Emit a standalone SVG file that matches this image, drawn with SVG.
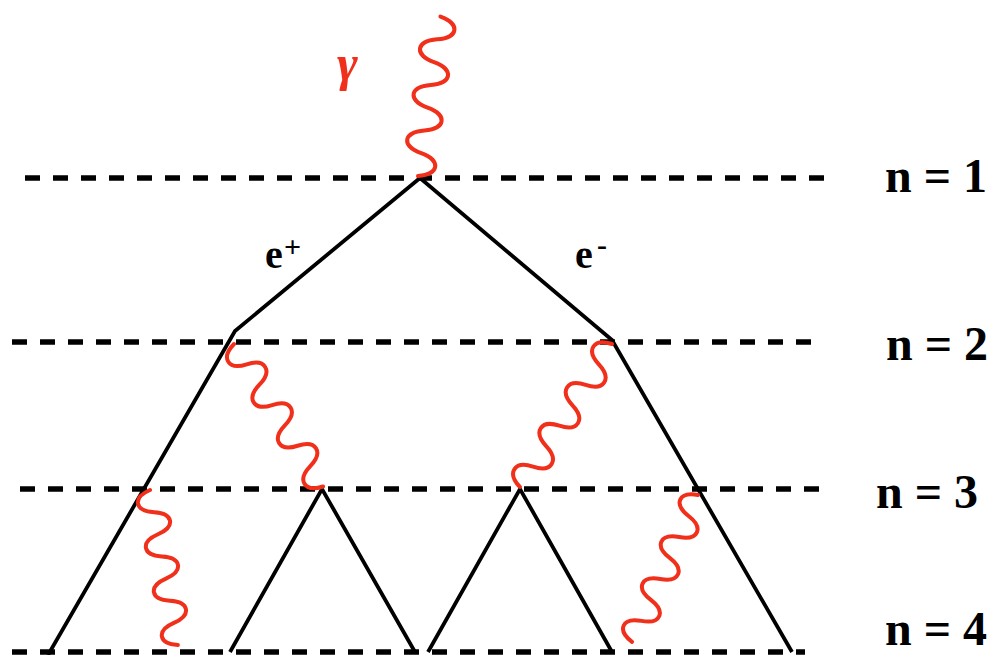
<svg xmlns="http://www.w3.org/2000/svg" width="992" height="655" viewBox="0 0 992 655">
<style>
.dash{stroke:#000;stroke-width:5.5;stroke-dasharray:15 13;fill:none}
.ln{stroke:#000;stroke-width:3.8;fill:none;stroke-linejoin:miter}
.ph{stroke:#f0301a;stroke-width:4;fill:none;stroke-linecap:round}
.lbl{font-family:"Liberation Serif","Times New Roman",serif;font-weight:bold;fill:#000}
</style>
<rect width="992" height="655" fill="#fff"/>
<g id="levels">
<line class="dash" x1="25" y1="178" x2="830" y2="178"/>
<line class="dash" x1="12" y1="342" x2="812" y2="342"/>
<line class="dash" x1="20" y1="489" x2="832" y2="489"/>
<line class="dash" x1="12" y1="652" x2="805" y2="652"/>
</g>
<g id="connectors">
<path class="ln" d="M48,655 L235,331 L420,178 L612,340 L792,652"/>
<path class="ln" d="M230,652 L322,489 L415,652"/>
<path class="ln" d="M428,652 L520,489 L612,652"/>
</g>
<g id="photons">
<path id="photon1" class="ph" transform="translate(418,176) rotate(-82)" d="M0,0 c4.6,21 18.4,21 23,0 c4.6,-21 18.4,-21 23,0 c4.6,21 18.4,21 23,0 c4.6,-21 18.4,-21 23,0 c4.6,21 18.4,21 23,0 c4.6,-21 18.4,-21 23,0 c4.6,21 18.4,21 23,0"/>
<path id="photon2" class="ph" transform="translate(234,344) rotate(58)" d="M0,0 c4.8,19 19.2,19 24,0 c4.8,-19 19.2,-19 24,0 c4.8,19 19.2,19 24,0 c4.8,-19 19.2,-19 24,0 c4.8,19 19.2,19 24,0 c4.8,-19 19.2,-19 24,0 c4.8,19 19.2,19 24,0"/>
<path id="photon3" class="ph" transform="translate(612,344) rotate(122.8)" d="M0,0 c4.9,19 19.4,19 24.3,0 c4.9,-19 19.4,-19 24.3,0 c4.9,19 19.4,19 24.3,0 c4.9,-19 19.4,-19 24.3,0 c4.9,19 19.4,19 24.3,0 c4.9,-19 19.4,-19 24.3,0 c4.9,19 19.4,19 24.3,0"/>
<path id="photon4" class="ph" transform="translate(150,490) rotate(79.8)" d="M0,0 c4.5,19 18,19 22.5,0 c4.5,-19 18,-19 22.5,0 c4.5,19 18,19 22.5,0 c4.5,-19 18,-19 22.5,0 c4.5,19 18,19 22.5,0 c4.5,-19 18,-19 22.5,0 c4.5,19 18,19 22.5,0"/>
<path id="photon5" class="ph" transform="translate(698,495) rotate(114.2)" d="M0,0 c4.6,19 18.4,19 23,0 c4.6,-19 18.4,-19 23,0 c4.6,19 18.4,19 23,0 c4.6,-19 18.4,-19 23,0 c4.6,19 18.4,19 23,0 c4.6,-19 18.4,-19 23,0 c4.6,19 18.4,19 23,0"/>
</g>
<g id="labels">
<text x="337" y="80" font-family="Liberation Serif, serif" font-style="italic" font-weight="bold" font-size="50" fill="#f0301a">γ</text>
<text class="lbl" x="265" y="268" font-size="40">e</text>
<text class="lbl" x="284" y="257" font-size="30">+</text>
<text class="lbl" x="575" y="268" font-size="40">e</text>
<text class="lbl" x="597" y="255" font-size="30">-</text>
<text class="lbl" x="987" y="192" font-size="48" text-anchor="end">n = 1</text>
<text class="lbl" x="988" y="360" font-size="48" text-anchor="end">n = 2</text>
<text class="lbl" x="978" y="508" font-size="48" text-anchor="end">n = 3</text>
<text class="lbl" x="987" y="645" font-size="48" text-anchor="end">n = 4</text>
</g>
</svg>
